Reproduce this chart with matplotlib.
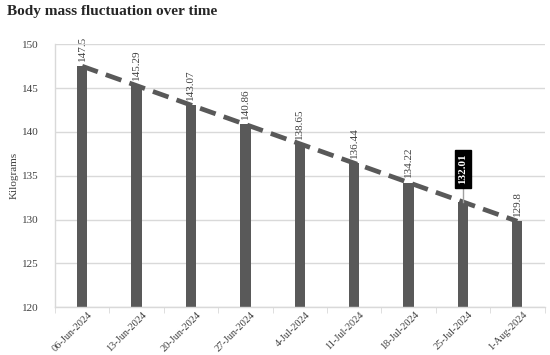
import matplotlib
matplotlib.use("Agg")
from matplotlib import pyplot as plt
import numpy as np

dates = ["06-Jun-2024", "13-Jun-2024", "20-Jun-2024", "27-Jun-2024", "4-Jul-2024",
         "11-Jul-2024", "18-Jul-2024", "25-Jul-2024", "1-Aug-2024"]
mass = [147.5, 145.29, 143.07, 140.86, 138.65, 136.44, 134.22, 132.01, 129.8]
labels = ["147.5", "145.29", "143.07", "140.86", "138.65", "136.44", "134.22", "132.01", "129.8"]
highlight = 7

plt.rcParams['font.family'] = ['Liberation Serif', 'DejaVu Serif']

fig = plt.figure(figsize=(5.5, 3.55), dpi=100)
ax = fig.add_axes([0.1, 0.135, 0.89, 0.74])

x = np.arange(len(dates))
ax.bar(x, [m - 120 for m in mass], bottom=120, width=0.19, color='#595959', zorder=2)
ax.plot(x, mass, color='#595959', lw=3.4, dashes=(3.5, 1.8), zorder=3)

for i in range(len(x)):
    if i == highlight:
        ax.plot([x[i], x[i]], [mass[i], mass[i] + 2.0], color='#a0a0a0', lw=1, zorder=3)
        ax.text(x[i], mass[i] + 2.0, labels[i], rotation=90, ha='center', va='bottom',
                fontsize=8, color='white', fontweight='bold', zorder=4,
                bbox=dict(boxstyle='square,pad=0.35', fc='black', ec='black'))
    else:
        ax.text(x[i], mass[i] + 0.6, labels[i], rotation=90, ha='center', va='bottom',
                fontsize=8, color='#404040', zorder=4)

ax.set_ylim(120, 150)
ax.set_xlim(-0.5, len(x) - 0.5)
ax.set_yticks(range(120, 151, 5))
ax.yaxis.grid(True, color='#d9d9d9', lw=1)
ax.set_axisbelow(True)
ax.set_xticks(x + 0.1)
ax.set_xticklabels(dates, rotation=45, ha='right', rotation_mode='anchor', fontsize=7.5, color='#404040')
ax.set_xticks(np.arange(-0.5, len(x), 1), minor=True)
ax.tick_params(axis='x', which='major', length=0, pad=2)
ax.tick_params(axis='x', which='minor', length=4, color='#d9d9d9')
ax.tick_params(axis='y', length=0, labelsize=8, labelcolor='#404040', pad=12)
for s in ['top', 'right']:
    ax.spines[s].set_visible(False)
ax.spines['left'].set_color('#d9d9d9')
ax.spines['bottom'].set_color('#d9d9d9')
ax.spines['left'].set_linewidth(1)
ax.spines['bottom'].set_linewidth(1)

ax.set_ylabel("Kilograms", fontsize=8, color='#404040', labelpad=2)
fig.text(0.012, 0.985, "Body mass fluctuation over time", fontsize=11, fontweight='bold',
         ha='left', va='top', color='#262626')

fig.savefig("out.png", dpi=100)
